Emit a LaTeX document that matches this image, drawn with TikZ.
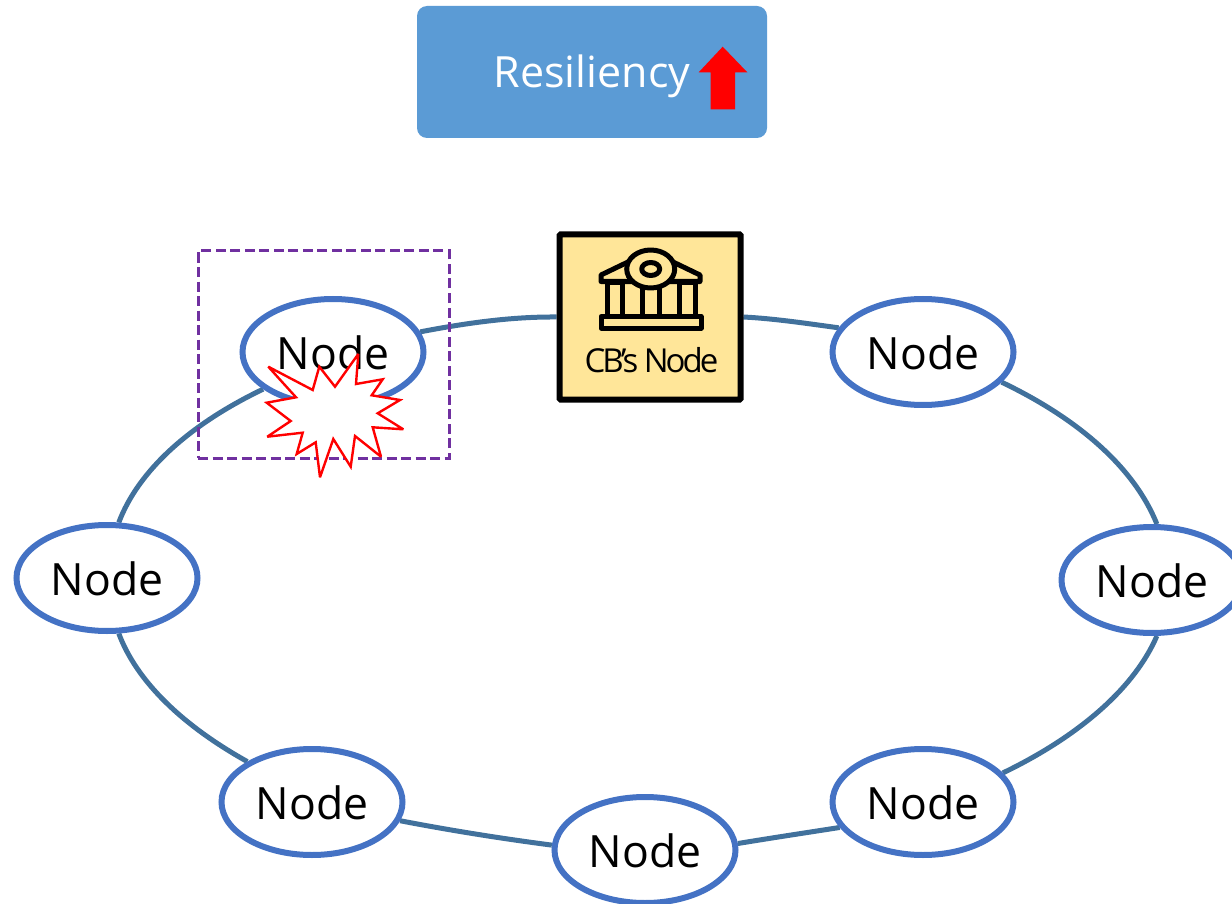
\documentclass[tikz,border=0pt]{standalone}
\usepackage{fontspec}
\setmainfont{Open Sans}
\newfontfamily\cbfont[LetterSpace=-9]{Open Sans}
\usetikzlibrary{shapes.geometric,backgrounds}
\definecolor{ringblue}{HTML}{41719C}
\definecolor{nodeblue}{HTML}{4472C4}
\definecolor{boxblue}{HTML}{5B9BD5}
\definecolor{cbfill}{HTML}{FFE699}
\definecolor{dashpurple}{HTML}{7030A0}
\tikzset{
  netnode/.style={ellipse,draw=nodeblue,line width=6pt,fill=white,minimum width=181pt,minimum height=106pt,inner sep=0pt},
  nodelabel/.style={font=\fontsize{44.5}{44.5}\selectfont,inner sep=0pt,yshift=-0.5pt},
  ringline/.style={draw=ringblue,line width=5pt},
  icon/.style={draw=black,line width=5pt,line join=round},
}
% ring arc between two anchors, following one ellipse; #3,#4 are its parameter angles
\newcommand{\ringarc}[4]{%
  \pgfmathsetmacro\rk{4/3*tan((#4-#3)/4)}%
  \pgfmathsetmacro\cax{637+532*(cos(#3)-\rk*sin(#3))}%
  \pgfmathsetmacro\cay{578-268*(sin(#3)+\rk*cos(#3))}%
  \pgfmathsetmacro\cbx{637+532*(cos(#4)+\rk*sin(#4))}%
  \pgfmathsetmacro\cby{578-268*(sin(#4)-\rk*cos(#4))}%
  \draw[ringline] (#1) .. controls (\cax,\cay) and (\cbx,\cby) .. (#2);%
}
\begin{document}
\begin{tikzpicture}[x=1pt,y=-1pt]
\useasboundingbox (0,0) rectangle (1232,904);
% nodes
\node[netnode,label={[nodelabel]center:Node}] (tl) at (333,352) {};
\node[netnode,label={[nodelabel]center:Node}] (tr) at (923,352) {};
\node[netnode,label={[nodelabel]center:Node}] (l) at (107,578) {};
\node[netnode,label={[nodelabel]center:Node}] (r) at (1152,580) {};
\node[netnode,label={[nodelabel]center:Node}] (bl) at (312,802) {};
\node[netnode,label={[nodelabel]center:Node}] (br) at (923,802) {};
\node[netnode,label={[nodelabel]center:Node}] (b) at (645,850) {};
\node[draw=black,line width=6pt,fill=cbfill,rounded corners=1pt,minimum width=181pt,minimum height=165pt,inner sep=0pt] (cb) at (650,317) {};
% ring
\begin{scope}[on background layer]
\ringarc{cb.east}{tr.164}{78.6}{67.8}
\ringarc{tr.-21}{r.85}{47}{12}
\ringarc{r.-85}{br.20}{-12}{-46.5}
\ringarc{br.197}{b.4}{-67.5}{-79.2}
\ringarc{b.177}{bl.-12}{-99.2}{-116.5}
\ringarc{bl.148}{l.-78}{-137}{-168}
\ringarc{l.78}{tl.208}{168}{135}
\ringarc{tl.13}{cb.west}{114}{98.6}
\end{scope}
% bank icon
\draw[icon] (607,282) rectangle (622,316) (642,282) rectangle (659,316) (679,282) rectangle (695,316);
\draw[icon,fill=cbfill] (601,275) -- (628,262) -- (673,262) -- (700,275) -- (700,281.5) -- (601,281.5) -- cycle;
\draw[icon,fill=cbfill] (650.7,269) ellipse [x radius=24,y radius=19];
\draw[icon,fill=cbfill] (650.7,269) ellipse [x radius=9,y radius=6.5];
\draw[icon,fill=cbfill] (601,316.5) rectangle (701,328);
\node[font=\fontsize{33}{33}\cbfont,inner sep=0pt] (cbtext) at (651.5,360.5) {CB’s Node};
% top box
\node[fill=boxblue,rounded corners=10pt,minimum width=350pt,minimum height=132pt,inner sep=0pt] (res) at (592,72) {};
\node[text=white,font=\fontsize{43}{43}\selectfont,inner sep=0pt] (restext) at (592,76) {Resiliency};
\fill[red] (722.7,46.7) -- (747.3,72.3) -- (735,72.3) -- (735,109.3) -- (710.7,109.3) -- (710.7,72.3) -- (698.7,72.3) -- cycle;
% focus frame and burst
\node[draw=dashpurple,line width=3pt,dash pattern=on 10pt off 4.5pt,minimum width=251pt,minimum height=207pt,inner sep=0pt] (frame) at (323.5,354.5) {};
\draw[red,line width=2.4pt,fill=white,line join=miter,miter limit=3] (268.3,366.7) -- (312.7,390) -- (319.3,366.7) -- (335,386.7) -- (358.3,354) -- (356,384) -- (382.7,379.3) -- (371.7,395.3) -- (400,400) -- (377.7,413.3) -- (403.3,429.3) -- (372.7,427.3) -- (381,456.7) -- (355,436) -- (350.7,466.7) -- (333.3,439) -- (320,477.3) -- (315.7,442.3) -- (296.7,454) -- (302.7,432.7) -- (267.3,436.7) -- (290.7,421) -- (266.7,402.7) -- (296,397.3) -- cycle;
\end{tikzpicture}
\end{document}
